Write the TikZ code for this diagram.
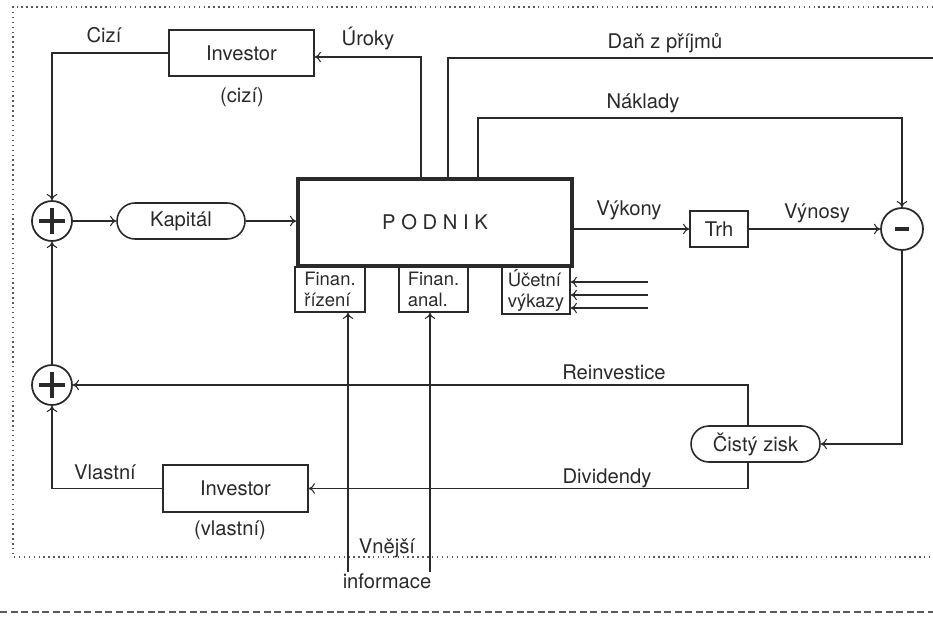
\documentclass[tikz,border=0pt]{standalone}
\usepackage{fontspec}
\setmainfont{TeX Gyre Heros}
\usetikzlibrary{arrows.meta,calc,shapes.misc}
\definecolor{ink}{HTML}{2A2A2A}
\definecolor{frame}{HTML}{5A5A5A}
\begin{document}
\begin{tikzpicture}[x=0.02cm,y=-0.02cm,
  conn/.style={draw=ink,line width=0.6pt},
  arr/.style={conn,-{To[length=3.5pt,width=6pt]}},
  box/.style={draw=ink,line width=0.9pt,inner sep=0pt,text=ink,font=\fontsize{11.5}{13}\selectfont},
  pill/.style={box,rounded rectangle},
  subbox/.style={draw=ink,line width=0.9pt,inner sep=0pt,text=ink,align=left,font=\fontsize{10.5}{12}\selectfont},
  lbl/.style={text=ink,inner sep=0pt,font=\fontsize{11.5}{13}\selectfont},
  sumnode/.style={circle,draw=ink,line width=1pt,inner sep=0pt},
  sym/.style={draw=ink,line width=2.3pt},
  framestyle/.style={draw=frame,line width=0.8pt,dotted},
  dashline/.style={draw=frame,line width=0.6pt,dash pattern=on 4pt off 2pt}
]
\useasboundingbox (0,0) rectangle (933,620);

% frame
\coordinate (ftl) at (13,7);
\coordinate (ftr) at (933,7);
\coordinate (fbl) at (13,557);
\coordinate (fbr) at (933,557);
\draw[framestyle] (ftr) -- (ftl) -- (fbl) -- (fbr);
\coordinate (dl) at (0,612);
\coordinate (dr) at (933,612);
\draw[dashline] (dl) -- (dr);

% nodes
\node[box,minimum width=2.9cm,minimum height=0.92cm] (inv1) at (241.5,53) {Investor};
\node[box,minimum width=2.9cm,minimum height=0.94cm] (inv2) at (235.5,488.5) {Investor};
\node[sumnode,minimum size=0.8cm] (p1) at (52,221) {};
\node[sumnode,minimum size=0.8cm] (p2) at (52,385) {};
\node[sumnode,minimum size=0.84cm] (mi) at (902,229) {};
\node[pill,minimum width=2.56cm,minimum height=0.72cm] (kap) at (181,221) {Kapitál};
\node[draw=ink,line width=2.2pt,inner sep=0pt,minimum width=5.48cm,minimum height=1.74cm,text=ink,font=\fontsize{11.5}{13}\selectfont] (pod) at (435,222.5) {P O D N I K};
\node[box,minimum width=1.16cm,minimum height=0.72cm] (trh) at (719,229) {Trh};
\node[pill,minimum width=2.58cm,minimum height=0.72cm] (zisk) at (755.5,444) {Čistý zisk};
\node[subbox,minimum width=1.4cm,minimum height=0.9cm] (fr) at (330,289.5) {Finan.\\řízení};
\node[subbox,minimum width=1.38cm,minimum height=0.9cm] (fa) at (433.5,289.5) {Finan.\\anal.};
\node[subbox,minimum width=1.36cm,minimum height=0.94cm] (uv) at (536,290.5) {Účetní\\výkazy};

% symbols
\draw[sym] (p1) ++(-13,0) -- ++(26,0);
\draw[sym] (p1) ++(0,-13) -- ++(0,26);
\draw[sym] (p2) ++(-13,0) -- ++(26,0);
\draw[sym] (p2) ++(0,-13) -- ++(0,26);
\draw[sym,line width=2.8pt] (mi) ++(-7,0) -- ++(14,0);

% labels
\node[lbl] (lcizi) at (104,35) {Cizí};
\node[lbl] (lcizi2) at (242,97) {(cizí)};
\node[lbl] (luroky) at (368,38) {Úroky};
\node[lbl] (ldan) at (665,43) {Daň z příjmů};
\node[lbl] (lnak) at (643,103) {Náklady};
\node[lbl] (lvyk) at (629,210) {Výkony};
\node[lbl] (lvyn) at (817,213) {Výnosy};
\node[lbl] (lrei) at (614,372) {Reinvestice};
\node[lbl] (ldiv) at (607,478) {Dividendy};
\node[lbl] (lvl) at (105,472) {Vlastní};
\node[lbl] (lvl2) at (230,530) {(vlastní)};
\node[lbl] (lvn) at (387,548) {Vnější};
\node[lbl] (linf) at (387,581) {informace};

% connectors
\draw[arr] (inv1.west) -| (p1.north);
\draw[arr] (p1.east) -- (kap.west);
\draw[arr] (kap.east) -- (kap.east -| pod.west);
\coordinate (ur) at (421,57);
\draw[arr] (pod.north -| ur) -- (ur) -- (ur -| inv1.east);
\coordinate (dn) at (448,58);
\coordinate (dnend) at (933,58);
\draw[conn] (pod.north -| dn) -- (dn) -- (dnend);
\coordinate (nk) at (478,118);
\draw[arr] (pod.north -| nk) -- (nk) -| (mi.north);
\draw[arr] (trh.west -| pod.east) -- (trh.west);
\draw[arr] (trh.east) -- (mi.west);
\draw[arr] (mi.south) |- (zisk.east);
\coordinate (zx) at (748,444);
\draw[arr] (zisk.north -| zx) |- (p2.east);
\draw[arr] (zisk.south -| zx) |- (inv2.east);
\draw[arr] (inv2.west) -| (p2.south);
\draw[arr] (p2.north) -- (p1.south);
\coordinate (a1) at (648,282);
\coordinate (a2) at (648,295);
\coordinate (a3) at (648,308);
\draw[arr] (a1) -- (a1 -| uv.east);
\draw[arr] (a2) -- (a2 -| uv.east);
\draw[arr] (a3) -- (a3 -| uv.east);
\coordinate (v1) at (348,572);
\coordinate (v2) at (430,572);
\draw[arr] (v1) -- (v1 |- fr.south);
\draw[arr] (v2) -- (v2 |- fa.south);
\end{tikzpicture}
\end{document}
